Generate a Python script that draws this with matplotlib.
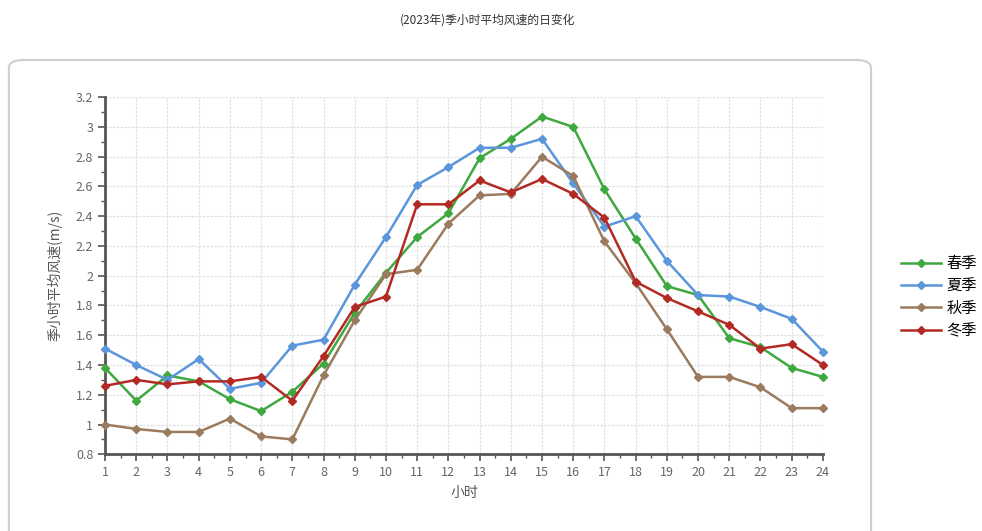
import numpy as np
import matplotlib
matplotlib.use("Agg")
import matplotlib.pyplot as plt
from matplotlib.patches import FancyBboxPatch
from matplotlib.ticker import MultipleLocator

plt.rcParams['font.family'] = ['Noto Sans CJK SC', 'DejaVu Sans']

# hours of day
hours = list(range(1, 25))

# seasonal mean wind speed per hour (m/s)
spring = [1.38, 1.16, 1.33, 1.29, 1.17, 1.09, 1.22, 1.41, 1.75, 2.02, 2.26, 2.42,
          2.79, 2.92, 3.07, 3.00, 2.58, 2.25, 1.93, 1.87, 1.58, 1.52, 1.38, 1.32]
summer = [1.51, 1.40, 1.30, 1.44, 1.24, 1.28, 1.53, 1.57, 1.94, 2.26, 2.61, 2.73,
          2.86, 2.86, 2.92, 2.62, 2.33, 2.40, 2.10, 1.87, 1.86, 1.79, 1.71, 1.49]
autumn = [1.00, 0.97, 0.95, 0.95, 1.04, 0.92, 0.90, 1.33, 1.70, 2.01, 2.04, 2.35,
          2.54, 2.55, 2.80, 2.67, 2.23, 1.95, 1.64, 1.32, 1.32, 1.25, 1.11, 1.11]
winter = [1.26, 1.30, 1.27, 1.29, 1.29, 1.32, 1.16, 1.46, 1.79, 1.86, 2.48, 2.48,
          2.64, 2.56, 2.65, 2.55, 2.39, 1.96, 1.85, 1.76, 1.67, 1.51, 1.54, 1.40]

series = [("春季", spring, "#3fa83f"),
          ("夏季", summer, "#5b96dc"),
          ("秋季", autumn, "#9a7b5e"),
          ("冬季", winter, "#b32a24")]

fig = plt.figure(figsize=(9.82, 5.31), dpi=100)

# rounded frame around the chart (no fill so the axes stay visible)
frame = FancyBboxPatch((0.009, -0.05), 0.878, 0.937,
                       boxstyle="round,pad=0,rounding_size=0.015",
                       transform=fig.transFigure, facecolor="none",
                       edgecolor="#cfcfcf", linewidth=1.5, zorder=-1)
fig.patches.append(frame)

fig.text(0.497, 0.962, "(2023年)季小时平均风速的日变化", ha="center", va="center",
         fontsize=8.5, color="#333333")

ax = fig.add_axes([0.107, 0.1445, 0.731, 0.6725])
for name, vals, col in series:
    ax.plot(hours, vals, color=col, lw=1.8, marker="D", ms=4.5, label=name,
            clip_on=False, zorder=3)

ax.set_xlim(1, 24)
ax.set_ylim(0.8, 3.2)
ax.set_xticks(hours)
ax.xaxis.set_minor_locator(MultipleLocator(0.5))
ax.yaxis.set_minor_locator(MultipleLocator(0.1))
yt = np.round(np.arange(0.8, 3.21, 0.2), 1)
ax.set_yticks(yt)
ax.set_yticklabels([f"{v:g}" for v in yt])

ax.grid(True, which="major", color="#e0e0e0", ls=(0, (2, 1)), lw=0.9)
for s in ["top", "right"]:
    ax.spines[s].set_visible(False)
for s in ["left", "bottom"]:
    ax.spines[s].set_color("#555555")
    ax.spines[s].set_linewidth(2)
ax.tick_params(which="major", length=5, width=1.2, color="#555555",
               labelcolor="#666666", labelsize=9)
ax.tick_params(which="minor", length=3, width=1, color="#555555")

ax.set_xlabel("小时", fontsize=10, color="#555555", labelpad=5)
ax.set_ylabel("季小时平均风速(m/s)", fontsize=10, color="#555555", labelpad=10)

ax.legend(loc="center left", bbox_to_anchor=(1.1, 0.44), frameon=False,
          fontsize=11, handlelength=2.6, labelspacing=0.35, handletextpad=0.4,
          borderaxespad=0)

fig.savefig("out.png", dpi=100)
